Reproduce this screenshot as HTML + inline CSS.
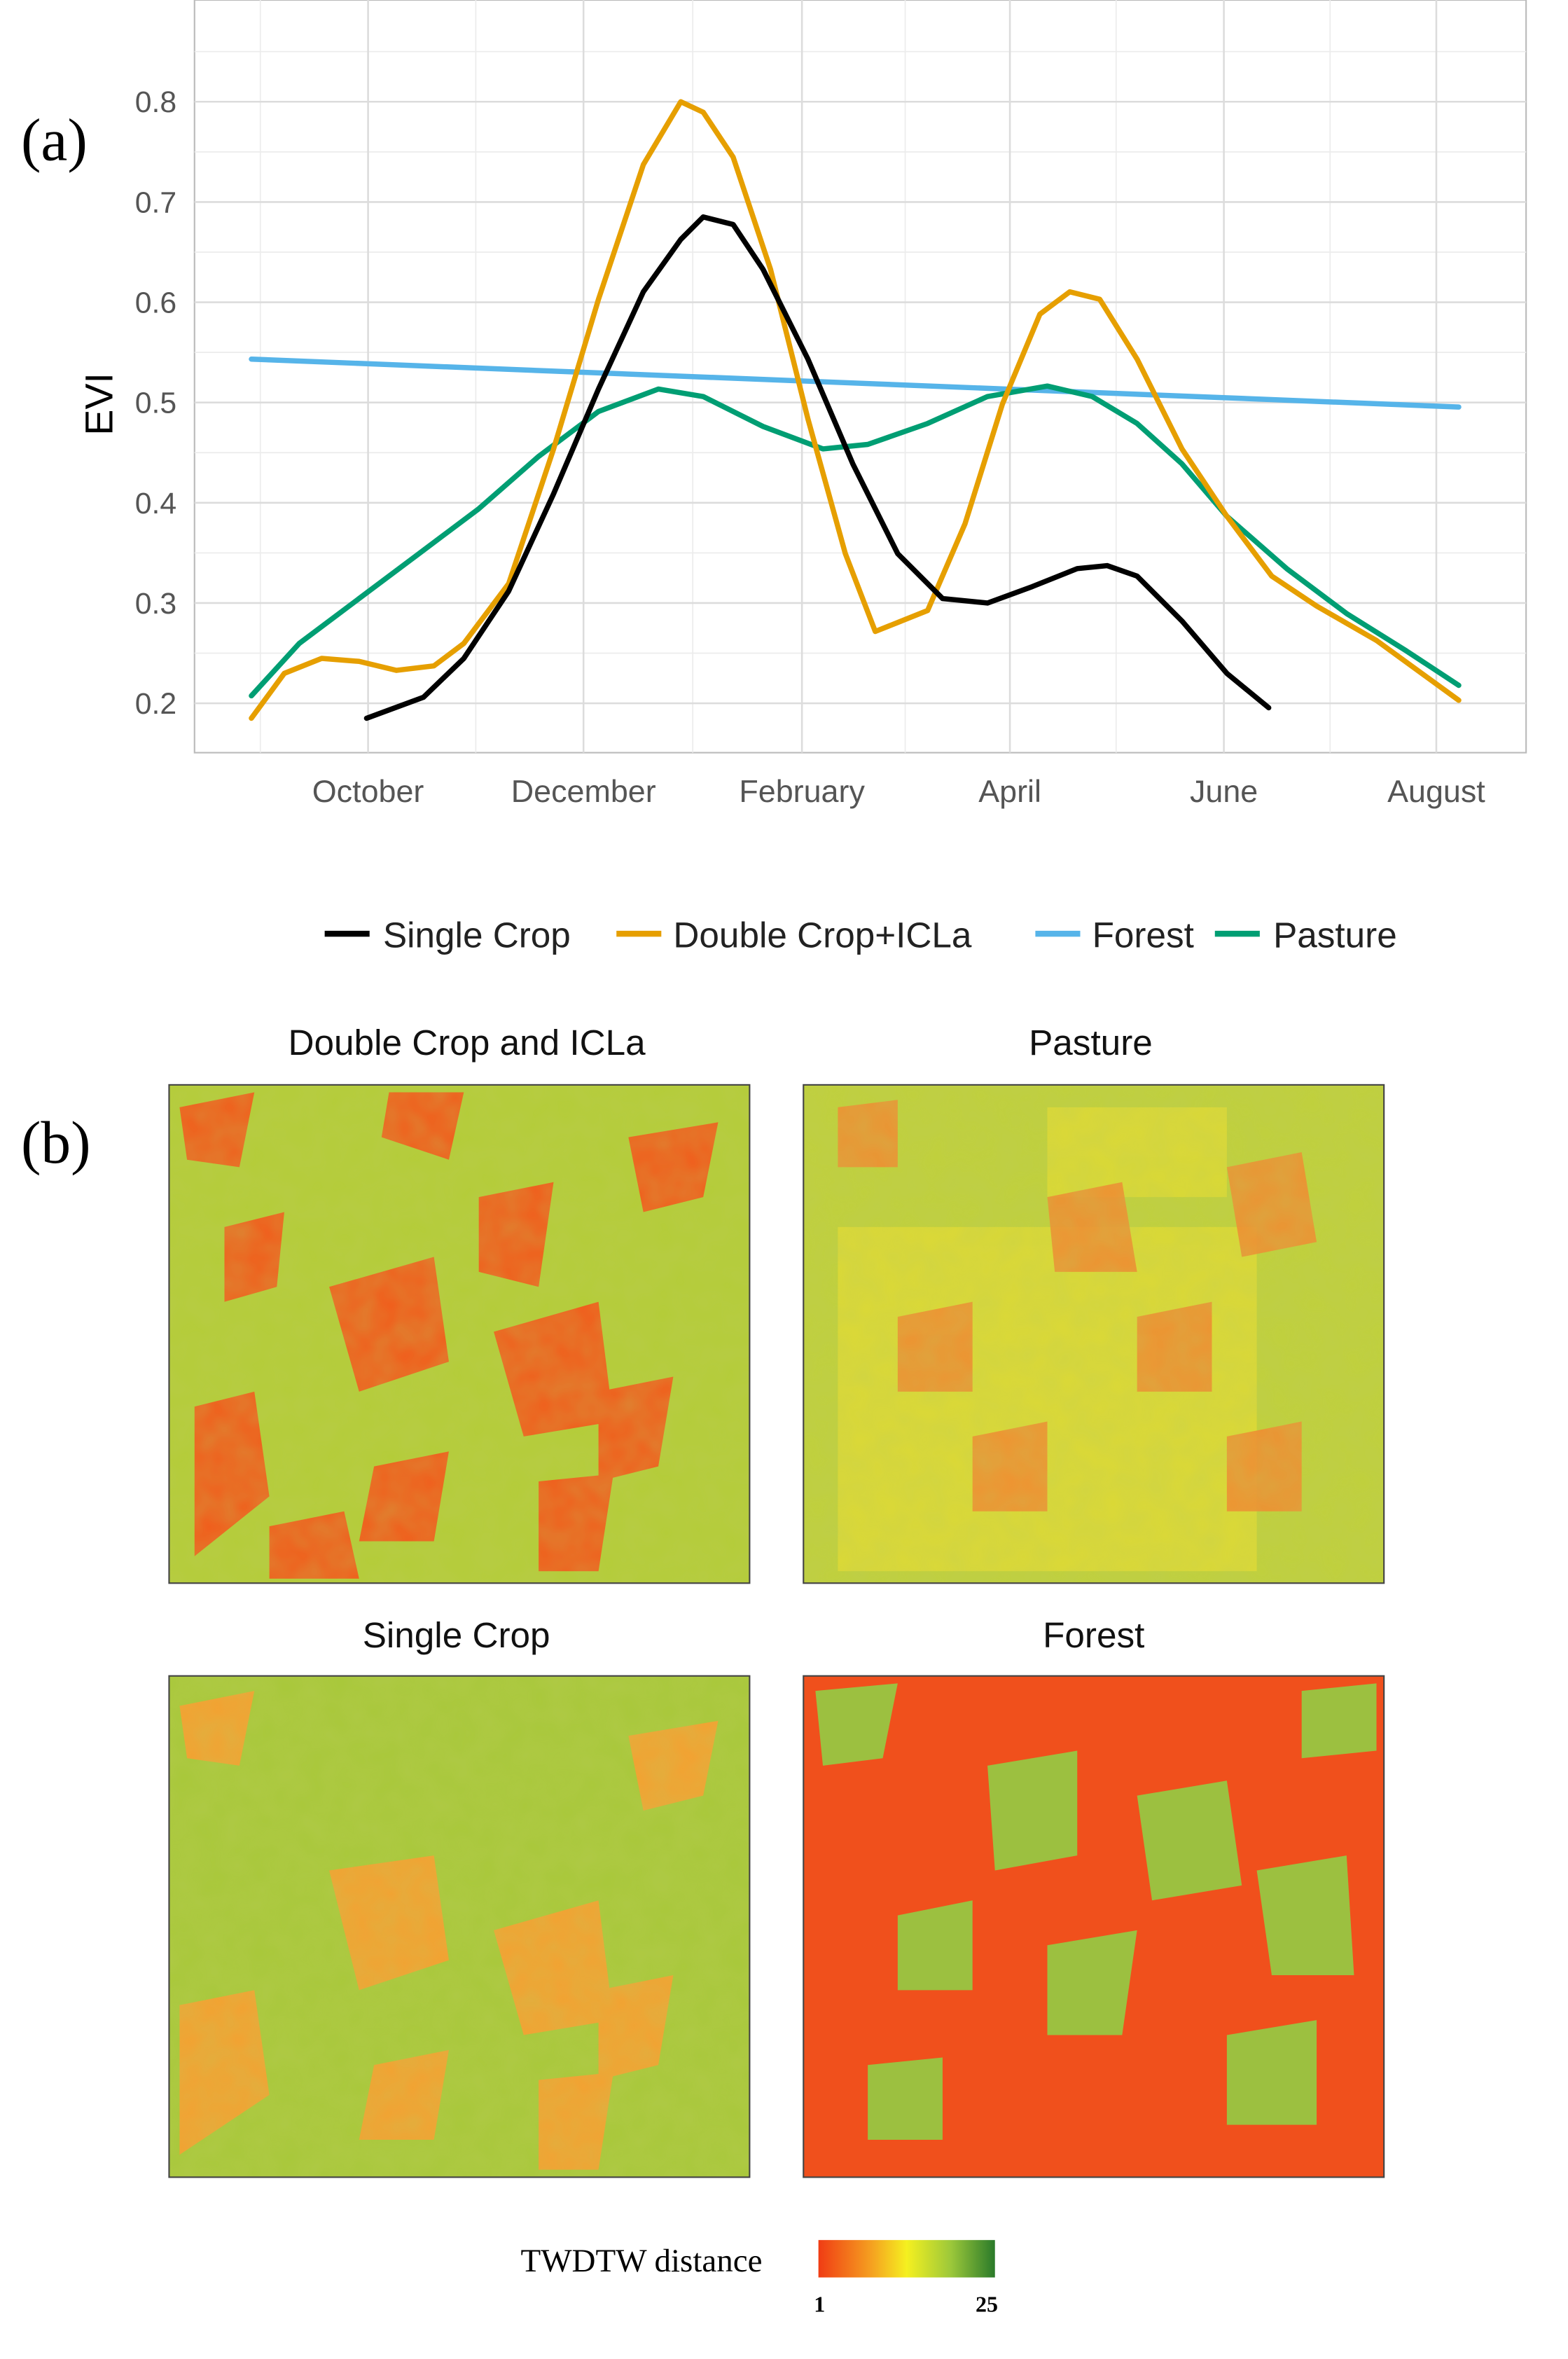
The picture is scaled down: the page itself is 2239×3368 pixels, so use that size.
<!DOCTYPE html>
<html><head><meta charset="utf-8"><style>
html,body{margin:0;padding:0;background:#fff;}
svg{display:block;}
.t{font-family:"Liberation Sans",sans-serif;}
.s{font-family:"Liberation Serif",serif;}
</style></head><body>
<svg width="2239" height="3368" viewBox="0 0 1048 1576.5" xmlns="http://www.w3.org/2000/svg">
<defs>
<linearGradient id="cb" x1="0" x2="1"><stop offset="0" stop-color="#f03c14"/><stop offset="0.3" stop-color="#f5a020"/><stop offset="0.5" stop-color="#f5f020"/><stop offset="0.75" stop-color="#9cc83a"/><stop offset="1" stop-color="#2a7a2a"/></linearGradient>
<filter id="tx"><feTurbulence type="fractalNoise" baseFrequency="0.06" numOctaves="2" seed="3"/><feColorMatrix values="0 0 0 0 0.5 0 0 0 0 0.6 0 0 0 0 0.1 0 0 0 0.35 0"/><feComposite in2="SourceGraphic" operator="in"/></filter>
</defs>
<rect x="130" y="0" width="890" height="503" fill="#fff" stroke="#bbb" stroke-width="1"/>
<g stroke="#ececec" stroke-width="0.8">
<line x1="130" x2="1020" y1="436.5" y2="436.5"/><line x1="130" x2="1020" y1="369.5" y2="369.5"/><line x1="130" x2="1020" y1="302.5" y2="302.5"/><line x1="130" x2="1020" y1="235.5" y2="235.5"/><line x1="130" x2="1020" y1="168.5" y2="168.5"/><line x1="130" x2="1020" y1="101.5" y2="101.5"/><line x1="130" x2="1020" y1="34.5" y2="34.5"/>
<line y1="0" y2="503" x1="174" x2="174"/><line y1="0" y2="503" x1="318" x2="318"/><line y1="0" y2="503" x1="463" x2="463"/><line y1="0" y2="503" x1="605" x2="605"/><line y1="0" y2="503" x1="746" x2="746"/><line y1="0" y2="503" x1="889" x2="889"/>
</g>
<g stroke="#dcdcdc" stroke-width="1.2">
<line x1="130" x2="1020" y1="470" y2="470"/><line x1="130" x2="1020" y1="403" y2="403"/><line x1="130" x2="1020" y1="336" y2="336"/><line x1="130" x2="1020" y1="269" y2="269"/><line x1="130" x2="1020" y1="202" y2="202"/><line x1="130" x2="1020" y1="135" y2="135"/><line x1="130" x2="1020" y1="68" y2="68"/>
<line y1="0" y2="503" x1="246" x2="246"/><line y1="0" y2="503" x1="390" x2="390"/><line y1="0" y2="503" x1="536" x2="536"/><line y1="0" y2="503" x1="675" x2="675"/><line y1="0" y2="503" x1="818" x2="818"/><line y1="0" y2="503" x1="960" x2="960"/>
</g>
<g class="t" fill="#555" font-size="20" text-anchor="end">
<text x="118" y="477">0.2</text><text x="118" y="410">0.3</text><text x="118" y="343">0.4</text><text x="118" y="276">0.5</text><text x="118" y="209">0.6</text><text x="118" y="142">0.7</text><text x="118" y="75">0.8</text>
</g>
<g class="t" fill="#555" font-size="21" text-anchor="middle">
<text x="246" y="536">October</text><text x="390" y="536">December</text><text x="536" y="536">February</text><text x="675" y="536">April</text><text x="818" y="536">June</text><text x="960" y="536">August</text>
</g>
<text class="t" font-size="26" transform="translate(75,270) rotate(-90)" text-anchor="middle">EVI</text>
<text class="s" font-size="40" x="14" y="107">(a)</text>
<g fill="none" stroke-width="3.5" stroke-linejoin="round" stroke-linecap="round">
<line x1="168" y1="240" x2="975" y2="272" stroke="#56b4e9"/>
<polyline stroke="#009e73" points="168,465 200,430 240,400 280,370 320,340 360,305 400,275 440,260 470,265 510,285 550,300 580,297 620,283 660,265 700,258 730,265 760,283 790,310 820,345 860,380 900,410 940,435 975,458"/>
<polyline stroke="#e69f00" points="168,480 190,450 215,440 240,442 265,448 290,445 310,430 340,390 370,300 400,200 430,110 455,68 470,75 490,105 515,180 540,280 565,370 585,422 600,416 620,408 645,350 670,270 695,210 715,195 735,200 760,240 790,300 820,345 850,385 880,405 920,428 975,468"/>
<polyline stroke="#000" points="245,480 283,466 310,440 340,395 370,330 400,260 430,195 455,160 470,145 490,150 510,180 540,240 570,310 600,370 630,400 660,403 690,392 720,380 740,378 760,385 790,415 820,450 848,473"/>
</g>
<g stroke-width="4">
<line x1="217" x2="247" y1="624" y2="624" stroke="#000"/>
<line x1="412" x2="442" y1="624" y2="624" stroke="#e69f00"/>
<line x1="692" x2="722" y1="624" y2="624" stroke="#56b4e9"/>
<line x1="812" x2="842" y1="624" y2="624" stroke="#009e73"/>
</g>
<g class="t" font-size="24" fill="#222">
<text x="256" y="633">Single Crop</text><text x="450" y="633">Double Crop+ICLa</text><text x="730" y="633">Forest</text><text x="851" y="633">Pasture</text>
</g>
<text class="s" font-size="40" x="14" y="777">(b)</text>
<g class="t" font-size="24" fill="#111" text-anchor="middle">
<text x="312" y="705">Double Crop and ICLa</text><text x="729" y="705">Pasture</text>
<text x="305" y="1101">Single Crop</text><text x="731" y="1101">Forest</text>
</g>
<g>
<rect x="113" y="725" width="388" height="333" fill="#b4cc38"/>
<g fill="#f25a1a">
<polygon points="120,740 170,730 160,780 125,775"/><polygon points="260,730 310,730 300,775 255,760"/><polygon points="420,760 480,750 470,800 430,810"/>
<polygon points="220,860 290,840 300,910 240,930"/><polygon points="320,800 370,790 360,860 320,850"/><polygon points="330,890 400,870 410,950 350,960"/>
<polygon points="150,820 190,810 185,860 150,870"/><polygon points="130,940 170,930 180,1000 130,1040"/><polygon points="250,980 300,970 290,1030 240,1030"/>
<polygon points="400,930 450,920 440,980 400,990"/><polygon points="180,1020 230,1010 240,1055 180,1055"/><polygon points="360,990 410,985 400,1050 360,1050"/>
</g>
<rect x="113" y="725" width="388" height="333" fill="#fff" filter="url(#tx)"/>
<rect x="113" y="725" width="388" height="333" fill="none" stroke="#444"/>
</g>
<g>
<rect x="537" y="725" width="388" height="333" fill="#c0d03c"/>
<g fill="#eee030" opacity="0.6"><rect x="560" y="820" width="280" height="230"/><rect x="700" y="740" width="120" height="60"/></g>
<g fill="#f28a30" opacity="0.9">
<polygon points="560,740 600,735 600,780 560,780"/><polygon points="820,780 870,770 880,830 830,840"/><polygon points="700,800 750,790 760,850 705,850"/>
<polygon points="600,880 650,870 650,930 600,930"/><polygon points="760,880 810,870 810,930 760,930"/><polygon points="650,960 700,950 700,1010 650,1010"/><polygon points="820,960 870,950 870,1010 820,1010"/>
</g>
<rect x="537" y="725" width="388" height="333" fill="#fff" filter="url(#tx)"/>
<rect x="537" y="725" width="388" height="333" fill="none" stroke="#444"/>
</g>
<g>
<rect x="113" y="1120" width="388" height="335" fill="#a8c83a"/>
<g fill="#f5a030">
<polygon points="120,1140 170,1130 160,1180 125,1175"/><polygon points="220,1250 290,1240 300,1310 240,1330"/><polygon points="330,1290 400,1270 410,1350 350,1360"/>
<polygon points="120,1340 170,1330 180,1400 120,1440"/><polygon points="250,1380 300,1370 290,1430 240,1430"/><polygon points="400,1330 450,1320 440,1380 400,1390"/>
<polygon points="420,1160 480,1150 470,1200 430,1210"/><polygon points="360,1390 410,1385 400,1450 360,1450"/>
</g>
<rect x="113" y="1120" width="388" height="335" fill="#fff" filter="url(#tx)"/>
<rect x="113" y="1120" width="388" height="335" fill="none" stroke="#444"/>
</g>
<g>
<rect x="537" y="1120" width="388" height="335" fill="#f0501c"/>
<g fill="#9cc040">
<polygon points="545,1130 600,1125 590,1175 550,1180"/><polygon points="660,1180 720,1170 720,1240 665,1250"/><polygon points="760,1200 820,1190 830,1260 770,1270"/>
<polygon points="840,1250 900,1240 905,1320 850,1320"/><polygon points="600,1280 650,1270 650,1330 600,1330"/><polygon points="700,1300 760,1290 750,1360 700,1360"/>
<polygon points="820,1360 880,1350 880,1420 820,1420"/><polygon points="580,1380 630,1375 630,1430 580,1430"/><polygon points="870,1130 920,1125 920,1170 870,1175"/>
</g>
<rect x="537" y="1120" width="388" height="335" fill="none" stroke="#444"/>
</g>
<text class="s" font-size="22" x="348" y="1518">TWDTW distance</text>
<rect x="547" y="1497" width="118" height="25" fill="url(#cb)"/>
<g class="s" font-size="15" font-weight="bold"><text x="544" y="1545">1</text><text x="652" y="1545">25</text></g>
</svg>
</body></html>
